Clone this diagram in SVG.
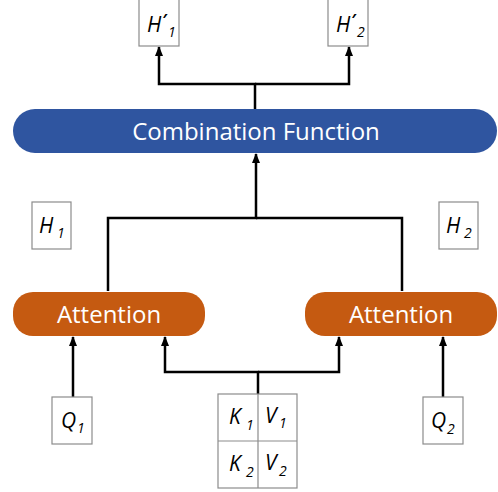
<svg xmlns="http://www.w3.org/2000/svg" width="498" height="492" viewBox="0 0 498 492">
<style>
.box{fill:#fff;stroke:#8c8c8c;stroke-width:1.2}
.lbl{font-family:"Open Sans","Liberation Sans",sans-serif;font-style:italic;fill:#000;font-size:21px}
.sub{font-size:14px}
.pr{font-family:"Open Sans","Liberation Sans",sans-serif;font-style:italic;fill:#000;font-size:16px;font-weight:bold}
.pill{font-family:"Open Sans","Liberation Sans",sans-serif;fill:#fff;font-size:24px;text-anchor:middle}
.ln{fill:none;stroke:#000;stroke-width:2.5}
</style>
<defs>
<marker id="ah" markerWidth="10" markerHeight="8" refX="9" refY="4" orient="auto" markerUnits="userSpaceOnUse" viewBox="0 0 10 8">
<path d="M0,0 L10,4 L0,8 Z" fill="#000"/>
</marker>
</defs>
<g id="connectors">
<path class="ln" d="M255,110 V84 H159 V47" marker-end="url(#ah)"/>
<path class="ln" d="M255,84 H349 V47" marker-end="url(#ah)"/>
<path class="ln" d="M108,291 V218 H256 V154" marker-end="url(#ah)"/>
<path class="ln" d="M402,291 V218 H256"/>
<path class="ln" d="M73,397 V337" marker-end="url(#ah)"/>
<path class="ln" d="M443,397 V337" marker-end="url(#ah)"/>
<path class="ln" d="M258,394 V372 H165 V337" marker-end="url(#ah)"/>
<path class="ln" d="M258,372 H339 V337" marker-end="url(#ah)"/>
</g>
<g id="H1p"><rect class="box" x="139" y="-2" width="40" height="48"/><text class="lbl" x="147" y="32">H</text><text class="pr" x="162" y="26">′</text><text class="lbl sub" x="168" y="37">1</text></g>
<g id="H2p"><rect class="box" x="328" y="-2" width="40" height="48"/><text class="lbl" x="336" y="32">H</text><text class="pr" x="351" y="26">′</text><text class="lbl sub" x="357" y="37">2</text></g>
<g id="combination"><rect x="13" y="109" width="484" height="44" rx="22" fill="#2f55a0"/><text class="pill" x="256" y="140">Combination Function</text></g>
<g id="H1"><rect class="box" x="32" y="202" width="39" height="47"/><text class="lbl" x="39" y="233">H<tspan class="sub" x="57" y="238">1</tspan></text></g>
<g id="H2"><rect class="box" x="439" y="202" width="39" height="47"/><text class="lbl" x="446" y="233">H<tspan class="sub" x="464" y="238">2</tspan></text></g>
<g id="att1"><rect x="13" y="292" width="192" height="44" rx="20" fill="#c55a11"/><text class="pill" x="109" y="323">Attention</text></g>
<g id="att2"><rect x="305" y="292" width="192" height="44" rx="20" fill="#c55a11"/><text class="pill" x="401" y="323">Attention</text></g>
<g id="Q1"><rect class="box" x="52" y="397" width="40" height="47"/><text class="lbl" x="61" y="428">Q<tspan class="sub" x="77" y="433">1</tspan></text></g>
<g id="Q2"><rect class="box" x="423" y="397" width="40" height="47"/><text class="lbl" x="431" y="428">Q<tspan class="sub" x="447" y="434">2</tspan></text></g>
<g id="KV"><rect class="box" x="218" y="394" width="79" height="94"/><path d="M258,394 V488 M218,441 H297" stroke="#8c8c8c" stroke-width="1.2" fill="none"/>
<text class="lbl" x="229" y="424">K<tspan class="sub" x="246" y="430">1</tspan></text>
<text class="lbl" x="265" y="423">V<tspan class="sub" x="279" y="428">1</tspan></text>
<text class="lbl" x="229" y="471">K<tspan class="sub" x="246" y="477">2</tspan></text>
<text class="lbl" x="265" y="470">V<tspan class="sub" x="279" y="476">2</tspan></text></g>
</svg>
